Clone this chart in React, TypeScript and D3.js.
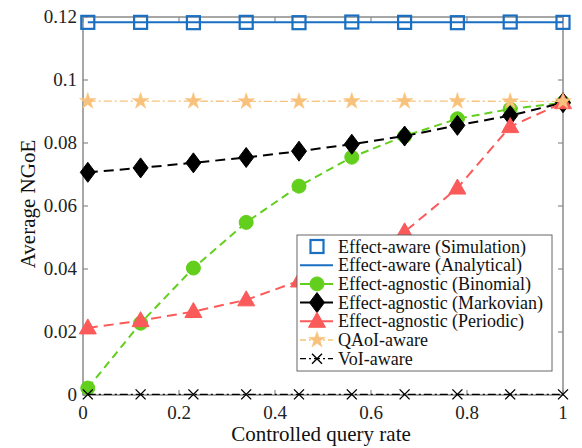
import React from "react";
import * as d3 from "d3";

const rates = [0.01, 0.12, 0.23, 0.34, 0.45, 0.56, 0.67, 0.78, 0.89, 1.0];
const simulation = [0.1183, 0.1183, 0.1182, 0.1183, 0.1182, 0.1184, 0.1183, 0.1182, 0.1184, 0.1183];
const analytical = [0.1183, 0.1183, 0.1183, 0.1183, 0.1183, 0.1183, 0.1183, 0.1183, 0.1183, 0.1183];
const binomial = [0.0022, 0.0228, 0.0403, 0.0548, 0.0663, 0.0755, 0.0822, 0.0877, 0.0908, 0.0928];
const markovian = [0.0707, 0.0721, 0.0737, 0.0754, 0.0774, 0.0796, 0.0822, 0.0856, 0.0887, 0.0928];
const periodic = [0.0213, 0.0236, 0.0265, 0.0302, 0.0362, 0.0432, 0.0518, 0.0657, 0.0852, 0.0928];
const qaoi = [0.0933, 0.0933, 0.0933, 0.0932, 0.0932, 0.0933, 0.0933, 0.0933, 0.0932, 0.0932];
const voi = [0.0002, 0.0002, 0.0002, 0.0002, 0.0002, 0.0002, 0.0002, 0.0002, 0.0002, 0.0002];

const xTicks = [0, 0.2, 0.4, 0.6, 0.8, 1];
const xTickLabels = ["0", "0.2", "0.4", "0.6", "0.8", "1"];
const yTicks = [0, 0.02, 0.04, 0.06, 0.08, 0.1, 0.12];
const yTickLabels = ["0", "0.02", "0.04", "0.06", "0.08", "0.1", "0.12"];
const legendLabels = [
  "Effect-aware (Simulation)",
  "Effect-aware (Analytical)",
  "Effect-agnostic (Binomial)",
  "Effect-agnostic (Markovian)",
  "Effect-agnostic (Periodic)",
  "QAoI-aware",
  "VoI-aware",
];

const W = 582;
const H = 448;
const L = 83, R = 563, T = 17, B = 395;
const FONT =
  '"Liberation Serif", "Times New Roman", Times, Tinos, "Nimbus Roman", FreeSerif, "Noto Serif", "DejaVu Serif", serif';

const x = d3.scaleLinear().domain([0, 1]).range([L, R]);
const y = d3.scaleLinear().domain([0, 0.12]).range([B, T]);

const BLUE = "#1a6fc2";
const GREEN = "#62cf1c";
const RED = "#fb5a5a";
const ORANGE = "#f8c27c";
const AXIS = "#8a8a8a";

type MarkerKind = "square" | "circle" | "diamond" | "triangle" | "star" | "x" | "none";

function starPath(r: number) {
  return d3.symbol().type(d3.symbolStar).size(r)();
}

function Marker({ kind, cx, cy, color }: { kind: MarkerKind; cx: number; cy: number; color: string }) {
  const t = `translate(${cx},${cy})`;
  switch (kind) {
    case "square":
      return <rect x={cx - 6.5} y={cy - 6.5} width={13} height={13} fill="none" stroke={color} strokeWidth={2.2} />;
    case "circle":
      return <circle cx={cx} cy={cy} r={7} fill={color} stroke={color} strokeWidth={1} />;
    case "diamond":
      return <path transform={t} d="M0,-10L7.5,0L0,10L-7.5,0Z" fill={color} stroke={color} strokeWidth={1} />;
    case "triangle":
      return <path transform={t} d="M0,-9L8.5,6L-8.5,6Z" fill={color} stroke={color} strokeWidth={1} />;
    case "star":
      return <path transform={t} d={starPath(85) || ""} fill={color} stroke={color} strokeWidth={0.5} />;
    case "x":
      return <path transform={t} d="M-5,-5L5,5M-5,5L5,-5" fill="none" stroke={color} strokeWidth={1.4} />;
    default:
      return null;
  }
}

type Series = {
  values: number[];
  color: string;
  marker: MarkerKind;
  line: boolean;
  dash: string;
  width: number;
};

const series: Series[] = [
  { values: simulation, color: BLUE, marker: "square", line: false, dash: "", width: 2 },
  { values: analytical, color: BLUE, marker: "none", line: true, dash: "", width: 2 },
  { values: binomial, color: GREEN, marker: "circle", line: true, dash: "8,5", width: 2 },
  { values: markovian, color: "#000", marker: "diamond", line: true, dash: "10,6", width: 2 },
  { values: periodic, color: RED, marker: "triangle", line: true, dash: "10,6", width: 2 },
  { values: qaoi, color: ORANGE, marker: "star", line: true, dash: "8,3,2,3", width: 1.4 },
  { values: voi, color: "#000", marker: "x", line: true, dash: "8,3,2,3", width: 1.2 },
];

export default function App() {
  const lineGen = d3
    .line<number>()
    .x((_, i) => x(rates[i]))
    .y((d) => y(d));

  const legX = 297, legY = 235, legW = 255, legH = 136;
  const rowH = 18.7;
  const ts = { fontFamily: FONT };

  return (
    <svg width={W} height={H} style={{ position: "fixed", left: 0, top: 0, background: "#fff", fontFamily: FONT }}>
      <rect x={0} y={0} width={W} height={H} fill="#fff" />
      <rect x={L} y={T} width={R - L} height={B - T} fill="none" stroke={AXIS} strokeWidth={1.5} />
      {xTicks.map((t, i) => (
        <g key={"xt" + i}>
          <line x1={x(t)} x2={x(t)} y1={B} y2={B - 5} stroke={AXIS} strokeWidth={1.2} />
          <line x1={x(t)} x2={x(t)} y1={T} y2={T + 5} stroke={AXIS} strokeWidth={1.2} />
          <text x={x(t)} y={B + 24} textAnchor="middle" fontSize={19} fill="#222" style={ts}>
            {xTickLabels[i]}
          </text>
        </g>
      ))}
      {yTicks.map((t, i) => (
        <g key={"yt" + i}>
          <line x1={L} x2={L + 5} y1={y(t)} y2={y(t)} stroke={AXIS} strokeWidth={1.2} />
          <line x1={R} x2={R - 5} y1={y(t)} y2={y(t)} stroke={AXIS} strokeWidth={1.2} />
          <text x={L - 6} y={y(t) + 6} textAnchor="end" fontSize={19} fill="#222" style={ts}>
            {yTickLabels[i]}
          </text>
        </g>
      ))}
      <text x={321} y={441} textAnchor="middle" fontSize={21} fill="#111" style={ts}>
        Controlled query rate
      </text>
      <text transform={`translate(35,${(T + B) / 2 - 2}) rotate(-90)`} textAnchor="middle" fontSize={21} fill="#111" style={ts}>
        Average NGoE
      </text>

      {series.map((s, si) => (
        <g key={"s" + si}>
          {s.line && (
            <path d={lineGen(s.values) || ""} fill="none" stroke={s.color} strokeWidth={s.width} strokeDasharray={s.dash || undefined} />
          )}
          {s.marker !== "none" &&
            s.values.map((v, i) => <Marker key={i} kind={s.marker} cx={x(rates[i])} cy={y(v)} color={s.color} />)}
        </g>
      ))}

      <rect x={legX} y={legY} width={legW} height={legH} fill="#fff" stroke="#666" strokeWidth={1} />
      {legendLabels.map((lab, i) => {
        const s = series[i];
        const cy = legY + 11.5 + i * rowH;
        return (
          <g key={"lg" + i}>
            {s.line && (
              <line x1={legX + 3} x2={legX + 36} y1={cy} y2={cy} stroke={s.color} strokeWidth={s.width} strokeDasharray={s.marker === "star" || s.marker === "x" ? "6,3,2,3" : undefined} />
            )}
            {s.marker !== "none" && <Marker kind={s.marker} cx={legX + 20} cy={cy} color={s.color} />}
            <text x={legX + 41} y={cy + 6} fontSize={18} fill="#111" style={ts}>
              {lab}
            </text>
          </g>
        );
      })}
    </svg>
  );
}
